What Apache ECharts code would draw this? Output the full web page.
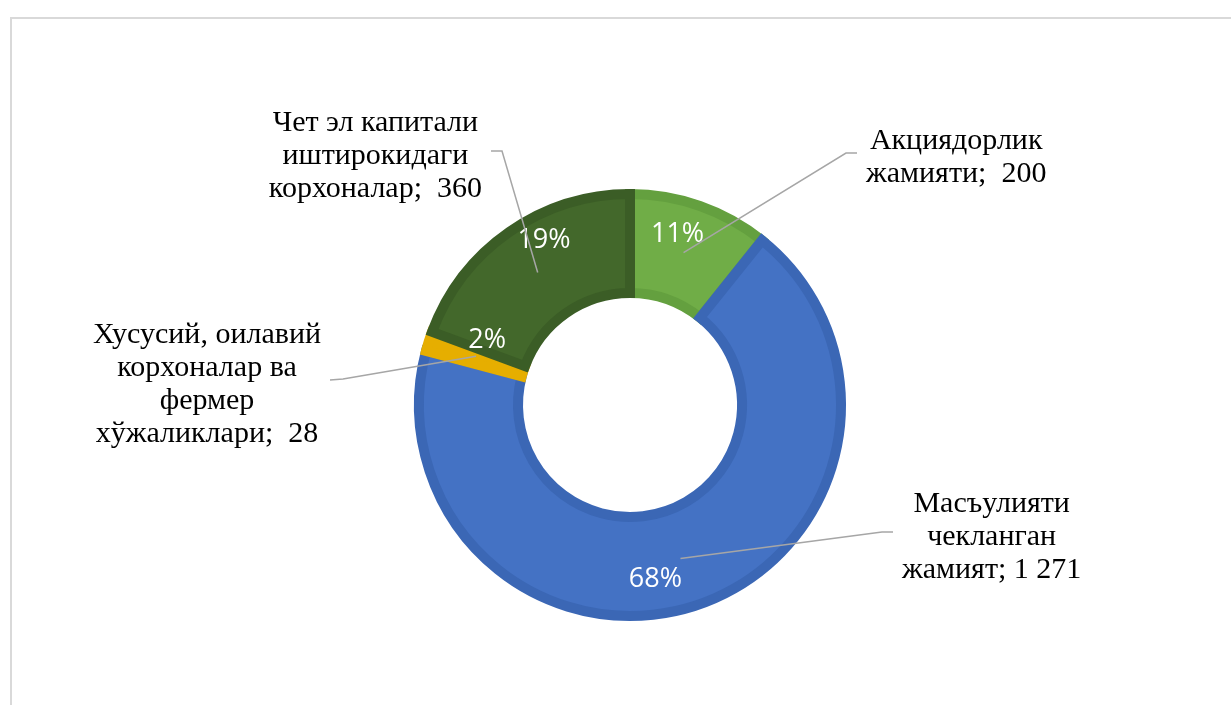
<!DOCTYPE html>
<html>
<head>
<meta charset="utf-8">
<script src="https://cdn.jsdelivr.net/npm/echarts@6/dist/echarts.min.js"></script>
<style>
html, body { margin: 0; padding: 0; background: #ffffff; overflow: hidden; }
#frame { position: absolute; left: 10px; top: 17px; width: 1400px; height: 900px; border: 2px solid #d9d9d9; box-sizing: border-box; }
#chart { position: absolute; left: 0; top: 0; width: 1231px; height: 705px; }
</style>
</head>
<body>
<div id="frame"></div>
<div id="chart"></div>
<script>
// ---- data ----
const categoryLines = [
  ['Акциядорлик', 'жамияти'],
  ['Масъулияти', 'чекланган', 'жамият'],
  ['Хусусий, оилавий', 'корхоналар ва', 'фермер', 'хўжаликлари'],
  ['Чет эл капитали', 'иштирокидаги', 'корхоналар']
];
const values = [200, 1271, 28, 360];
const valueSeparators = [';  ', '; ', ';  ', ';  '];

// ---- styles ----
const fillColors = ['#70AD47', '#4472C4', '#E6AE00', '#43682B'];
const bandColors = ['#64A03F', '#3B67B5', '#E6AE00', '#3B5D26'];
const pctShift = [[-7, -15], [-26, 18], [14, -15], [8, -30]];
const outerLayout = [
  { side: 'right', elbow: [846, 153], end: [857, 153] },
  { side: 'right', elbow: [882, 532], end: [893, 532] },
  { side: 'left',  elbow: [343, 379], end: [330, 380] },
  { side: 'left',  elbow: [502, 151], end: [491, 151] }
];
const GAP = 9;
const LABEL_DY = 5;

function fmtNum(v) {
  return String(v).replace(/\B(?=(\d{3})+(?!\d))/g, ' ');
}

const names = categoryLines.map(l => l.join(' '));
const ringData = values.map((v, i) => ({
  name: names[i], value: v,
  itemStyle: { color: fillColors[i], borderColor: bandColors[i] }
}));
const labelData = values.map((v, i) => ({ name: names[i], value: v }));

const chart = echarts.init(document.getElementById('chart'), null, { renderer: 'canvas' });
chart.setOption({
  animation: false,
  backgroundColor: 'transparent',
  series: [
    {
      type: 'pie',
      z: 2,
      center: [630, 405],
      radius: [112, 211],
      startAngle: 90,
      clockwise: true,
      silent: true,
      avoidLabelOverlap: false,
      itemStyle: { borderWidth: 10, borderJoin: 'miter' },
      emphasis: { disabled: true },
      label: {
        show: true,
        position: 'inside',
        rotate: 0,
        color: '#ffffff',
        fontFamily: 'Open Sans',
        fontSize: 27,
        textBorderWidth: 0,
        textShadowBlur: 0,
        formatter: p => Math.round(p.percent) + '%'
      },
      labelLine: { show: false },
      labelLayout: p => ({ dx: pctShift[p.dataIndex][0], dy: pctShift[p.dataIndex][1] }),
      data: ringData
    },
    {
      type: 'pie',
      z: 10,
      center: [630, 405],
      radius: [0, 161.5],
      startAngle: 90,
      clockwise: true,
      silent: true,
      avoidLabelOverlap: false,
      itemStyle: { color: 'rgba(0,0,0,0)', borderWidth: 0 },
      emphasis: { disabled: true },
      label: {
        show: true,
        position: 'outside',
        alignTo: 'none',
        color: '#000000',
        fontFamily: 'Liberation Serif',
        fontSize: 30,
        lineHeight: 33,
        align: 'center',
        textBorderWidth: 0,
        formatter: p => categoryLines[p.dataIndex].join('\n') + valueSeparators[p.dataIndex] + fmtNum(values[p.dataIndex])
      },
      labelLine: {
        show: true,
        length: 10,
        length2: 10,
        smooth: false,
        lineStyle: { color: '#A6A6A6', width: 1.5 }
      },
      labelLayout: p => {
        const L = outerLayout[p.dataIndex];
        const w = p.labelRect.width;
        const x = L.side === 'right' ? L.end[0] + GAP + w / 2 : L.end[0] - GAP - w / 2;
        const pts = p.labelLinePoints;
        return {
          x: x, y: L.end[1] + LABEL_DY, align: 'center', verticalAlign: 'middle',
          labelLinePoints: [pts[0], L.elbow, L.end]
        };
      },
      data: labelData
    }
  ]
});
</script>
</body>
</html>
